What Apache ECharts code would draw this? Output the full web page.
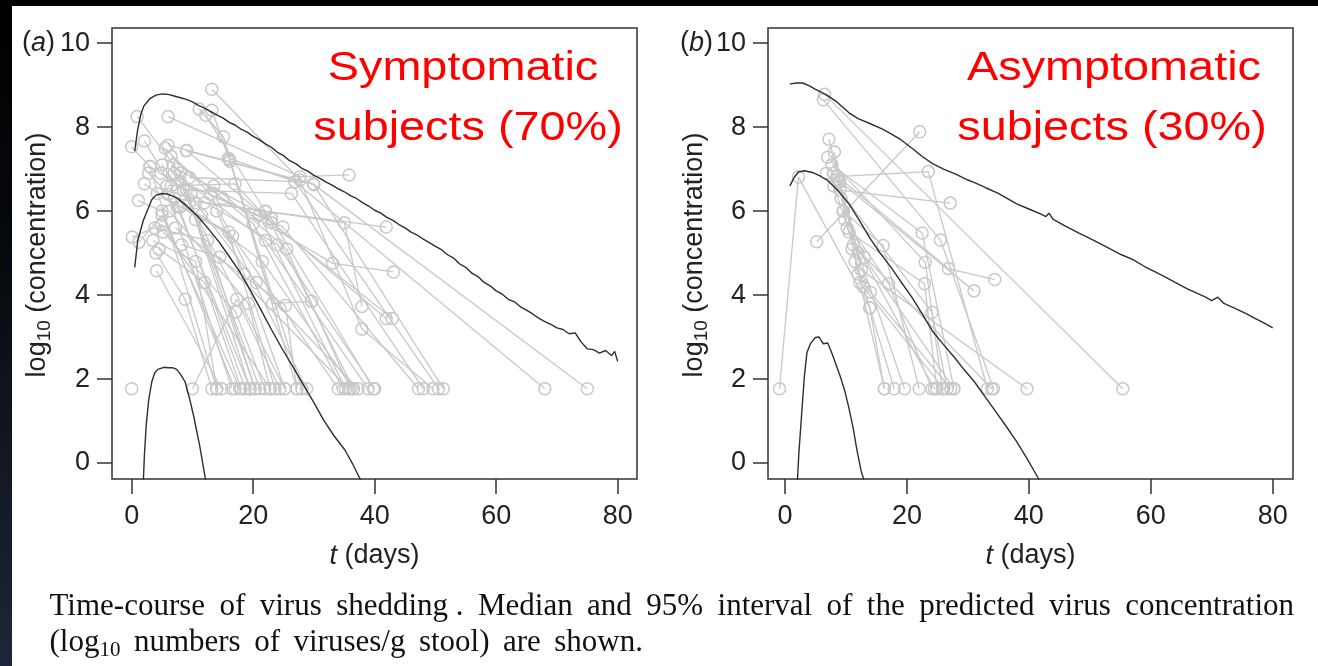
<!DOCTYPE html>
<html><head><meta charset="utf-8">
<script src="https://cdn.jsdelivr.net/npm/echarts@6/dist/echarts.min.js"></script>
<style>
html,body{margin:0;padding:0;background:#000;width:1318px;height:666px;overflow:hidden;}
#paper{position:absolute;left:12px;top:6px;width:1306px;height:660px;background:#fff;}
#strip{position:absolute;left:0;top:0;width:12px;height:666px;background:linear-gradient(to bottom,#000 0%,#05080d 35%,#1d2638 100%);}
#c{position:absolute;left:0;top:0;width:1318px;height:666px;}
</style>
</head><body><div id="strip"></div><div id="paper"></div><div id="c"></div>
<script>
// ---- tick labels ----
const xTicks = [0, 20, 40, 60, 80];
const yTicks = [0, 2, 4, 6, 8, 10];

// ---- panel (a): predicted curves [t, log10 conc] ----
const upperA = [[0.5,7.43],[1,7.95],[1.5,8.3],[2,8.5],[3,8.68],[4,8.76],[5,8.79],[6,8.78],[7,8.74],[8,8.70],[9,8.66],[10,8.6],[11,8.52],[12,8.45],[13,8.37],[14,8.29],[15,8.22],[16,8.12],[17,8.05],[18,7.95],[19,7.88],[20,7.78],[21,7.7],[22,7.6],[23,7.52],[24,7.4],[25,7.32],[26,7.2],[27,7.13],[28,7.02],[29,6.95],[30,6.85],[31,6.78],[32,6.69],[33,6.62],[34,6.53],[35,6.46],[36,6.37],[37,6.3],[38,6.2],[39,6.12],[40,6.02],[41,5.95],[42,5.85],[43,5.78],[44,5.68],[45,5.6],[46,5.5],[47,5.43],[48,5.33],[49,5.25],[50,5.16],[51,5.08],[52,4.96],[53,4.88],[54,4.74],[55,4.66],[56,4.52],[57,4.44],[58,4.3],[59,4.22],[60,4.1],[61,4.02],[62,3.9],[63,3.84],[64,3.72],[65,3.64],[66,3.55],[67,3.45],[68,3.37],[69,3.3],[70,3.22],[71,3.18],[72,3.08],[73,3.1],[74,2.88],[75,2.72],[76,2.7],[77,2.62],[78,2.68],[79,2.56],[79.5,2.66],[80,2.42]];
const medianA = [[0.5,4.66],[1,5.3],[1.9,5.77],[3.3,6.27],[4,6.38],[5,6.42],[6,6.4],[7.4,6.32],[9,6.13],[10.9,5.87],[12.5,5.6],[14.4,5.26],[16,4.93],[17.8,4.55],[19.5,4.12],[21.3,3.64],[23,3.18],[24.7,2.74],[26.5,2.3],[28.2,1.88],[30,1.44],[31.6,1.02],[33.3,0.65],[35.1,0.31],[36.3,0.0],[37.5,-0.35],[38,-0.5]];
const lowerA = [[1.9,-0.5],[2.1,0.2],[2.4,0.92],[2.8,1.5],[3.3,1.93],[3.8,2.15],[4.3,2.23],[5.3,2.28],[6,2.27],[6.7,2.27],[7.4,2.23],[8.1,2.1],[8.8,1.93],[9.5,1.55],[10.2,1.12],[11.2,0.41],[12.1,-0.35],[12.3,-0.5]];

// ---- panel (a): observed subjects ----
const subjectsA = [
 [[0.0,1.77]],
 [[0.9,8.25],[8.0,6.9],[20.3,1.77]],
 [[0.0,7.53],[3.0,7.06],[14.0,1.77]],
 [[2.1,7.67],[6.5,6.6],[18.7,1.77]],
 [[6.0,8.25],[27.7,6.82],[35.8,6.86]],
 [[11.1,8.43],[15.1,7.77],[27.2,1.77]],
 [[12.2,8.28],[22.0,5.99],[36.5,1.77]],
 [[13.2,8.9],[27.7,6.74],[37.9,3.19],[49.6,1.77]],
 [[13.2,8.4],[16.2,7.18],[28.0,1.77]],
 [[9.05,7.44],[41.9,3.44]],
 [[3.0,7.06],[9.0,6.5],[21.1,1.77]],
 [[1.1,6.25],[5.0,6.0],[17.0,1.77]],
 [[2.1,6.65],[7.5,6.1],[19.5,1.77]],
 [[0.1,5.38],[4.9,5.67],[22.8,1.77]],
 [[1.2,5.26],[5.0,5.9],[17.8,1.77]],
 [[4.1,4.58],[14.8,1.77]],
 [[10.0,1.77],[17.3,3.9],[24.4,1.77]],
 [[4.2,6.42],[16.0,5.5],[23.6,1.77]],
 [[5.0,7.1],[9.5,6.2],[25.2,1.77]],
 [[5.5,7.5],[13.0,6.4],[28.8,1.77]],
 [[6.5,7.3],[20.0,5.7],[34.8,1.77]],
 [[7.0,6.9],[22.0,5.3],[38.9,1.77]],
 [[7.5,7.0],[23.0,5.82],[39.8,1.77]],
 [[8.0,6.7],[24.9,5.62],[47.2,1.77]],
 [[8.5,6.5],[26.3,6.42],[48.0,1.77]],
 [[9.5,6.8],[26.9,6.7],[50.5,1.77]],
 [[6.0,7.57],[29.9,6.65],[51.3,1.77]],
 [[7.0,6.3],[22.0,6.0],[41.9,5.62]],
 [[12.0,6.2],[35.0,5.72],[37.9,3.73]],
 [[15.0,6.3],[33.05,4.76],[43.1,4.55]],
 [[16.1,7.23],[23.2,3.8],[29.6,3.85]],
 [[15.9,7.26],[26.9,6.70],[68.0,1.77]],
 [[9.0,7.44],[30.0,6.63],[75.0,1.77]],
 [[4.0,5.0],[8.8,3.9],[13.2,1.77]],
 [[3.5,5.3],[10.5,4.8],[14.0,1.77]],
 [[4.5,5.1],[12.0,4.3],[18.0,1.77]],
 [[5.2,5.5],[17.1,3.6],[21.9,1.77]],
 [[6.2,6.0],[19.2,3.8],[22.8,1.77]],
 [[7.2,5.6],[25.3,3.75],[27.2,1.77]],
 [[8.2,5.2],[14.5,4.9],[35.7,1.77]],
 [[10.5,6.2],[20.5,4.3],[37.3,1.77]],
 [[11.5,5.9],[21.5,4.8],[36.5,1.77]],
 [[5.8,6.6],[17.0,6.65],[23.0,5.72],[42.9,3.44]],
 [[3.8,5.6],[12.5,5.3],[20.3,1.77]],
 [[14.0,6.0],[18.5,4.5],[25.2,1.77]],
 [[6.8,7.1],[10.5,5.8],[19.5,1.77]],
 [[2.8,6.9],[6.0,6.4],[16.5,1.77]],
 [[8.0,6.1],[16.6,5.4],[34.0,1.77]],
 [[9.8,6.4],[24.0,5.2],[40.0,1.77]],
 [[13.5,6.6],[25.5,5.1],[36.0,1.77]],
 [[4.8,6.9],[21.0,5.9],[35.2,1.77]]
];

// ---- panel (b): predicted curves ----
const upperB = [[0.8,9.03],[2,9.05],[2.9,9.05],[4,8.98],[5,8.9],[5.7,8.85],[7,8.75],[8.5,8.6],[10.5,8.34],[12,8.2],[14,8.08],[16,7.95],[17.4,7.84],[19,7.7],[21,7.48],[22.5,7.3],[24.2,7.13],[26,7.0],[28,6.88],[30,6.74],[31.1,6.68],[33,6.55],[35,6.42],[38,6.17],[40,6.05],[42,5.93],[42.8,5.87],[43.3,5.95],[44,5.8],[46,5.64],[48.3,5.47],[50,5.35],[52,5.2],[55.2,4.96],[57,4.85],[59,4.68],[62.1,4.45],[64,4.3],[66,4.15],[69,3.95],[70,3.87],[71,3.95],[72,3.8],[74,3.67],[75.9,3.54],[77,3.45],[78,3.38],[79,3.3],[80,3.22]];
const medianB = [[0.8,6.6],[1.5,6.8],[2.2,6.93],[3.2,6.96],[4.5,6.92],[5.8,6.83],[7,6.73],[8.8,6.47],[10.5,6.17],[12.2,5.78],[13.9,5.36],[15.6,5.0],[17.4,4.66],[19.1,4.3],[20.8,3.95],[22.5,3.55],[24.2,3.14],[26,2.82],[27.7,2.53],[29.4,2.22],[31.1,1.93],[32.8,1.58],[34.6,1.22],[36.3,0.87],[38.0,0.51],[39.8,0.08],[41.5,-0.35],[42,-0.5]];
const lowerB = [[2.0,-0.5],[2.3,0.3],[2.6,0.9],[2.9,1.52],[3.2,2.1],[3.6,2.63],[4.2,2.85],[4.97,2.99],[5.6,3.0],[6.0,2.9],[6.3,2.84],[7.0,2.86],[7.6,2.65],[8.4,2.33],[9.1,2.05],[9.8,1.72],[10.5,1.3],[11.2,0.82],[11.8,0.31],[12.5,-0.2],[12.9,-0.38],[13,-0.5]];

// ---- panel (b): observed subjects ----
const subjectsB = [
 [[-0.9,1.77],[2.2,6.81],[13.9,3.7],[16.3,1.77]],
 [[6.5,8.78],[55.4,1.77]],
 [[6.3,8.65],[25.5,5.31],[34.2,1.77]],
 [[5.2,5.27],[22.1,7.89]],
 [[7.2,7.71],[9.0,6.7],[12.0,5.0],[19.6,1.77]],
 [[8.5,6.82],[23.5,6.94],[33.2,1.77]],
 [[9.0,6.5],[27.1,6.19]],
 [[8.6,6.75],[31.0,4.10]],
 [[8.0,6.9],[26.8,4.63],[34.4,4.37]],
 [[7.7,7.1],[22.5,5.48],[27.7,1.77]],
 [[7.0,7.28],[23.0,4.78],[25.8,1.77]],
 [[6.8,6.9],[24.1,3.59],[26.6,1.77]],
 [[9.5,6.0],[16.1,5.18],[22.0,1.77]],
 [[9.8,5.8],[17.0,4.27],[24.1,1.77]],
 [[10.5,5.5],[22.9,4.27],[24.9,1.77]],
 [[11.0,5.1],[13.9,3.7],[17.9,1.77]],
 [[11.5,4.8],[12.3,4.3],[16.3,1.77]],
 [[12.0,4.5],[14.0,4.07],[27.2,1.77]],
 [[8.0,6.6],[11.2,5.2],[33.9,1.77]],
 [[8.8,6.7],[12.5,4.6],[39.7,1.77]],
 [[9.2,6.3],[13.0,4.9],[27.7,1.77]],
 [[9.6,6.0],[12.8,4.2],[26.0,1.77]],
 [[8.1,7.41],[10.2,5.6],[24.5,1.77]]
];

// ---- texts ----
const titleA = ['Symptomatic', 'subjects (70%)'];
const titleB = ['Asymptomatic', 'subjects (30%)'];
const panelLabels = ['a', 'b'];
const captionLine1 = ['Time-course','of','virus','shedding .','Median','and','95%','interval','of','the','predicted','virus','concentration'];
const captionLine2 = ['numbers','of','viruses/g','stool)','are','shown.'];
const captionLine2Head = ['(log', '10'];

// ---- layout ----
const SANS = '"Liberation Sans", Arial, sans-serif';
const SERIF = '"Liberation Serif", "Times New Roman", serif';
const GRID_TOP = 28, GRID_H = 451, GRID_W = 525;
const gridsPos = [{left:112}, {left:768}];
const xRange = [[-3.24, 83.18], [-2.79, 83.33]];
const yRange = [-0.38, 10.36];
const INK = '#222';
const GRAY = '#c8c8c8';
const CURVE = '#2e2e2e';

const chart = echarts.init(document.getElementById('c'), null, {renderer:'canvas'});

const grid = gridsPos.map(g => ({left:g.left, top:GRID_TOP, width:GRID_W, height:GRID_H, show:true,
  borderColor:'#333', borderWidth:1.5, backgroundColor:'transparent', containLabel:false}));

const xAxis = [0,1].map(i => ({type:'value', gridIndex:i, min:xRange[i][0], max:xRange[i][1], position:'bottom',
  splitLine:{show:false}, axisLine:{show:false, onZero:false},
  axisTick:{show:true, inside:false, length:15, customValues:xTicks, lineStyle:{color:'#333', width:1.5}},
  axisLabel:{show:true, customValues:xTicks, margin:24, fontFamily:SANS, fontSize:27, color:INK}}));

const yAxis = [0,1].map(i => ({type:'value', gridIndex:i, min:yRange[0], max:yRange[1], position:'left',
  splitLine:{show:false}, axisLine:{show:false, onZero:false},
  axisTick:{show:true, inside:false, length:15, customValues:yTicks, lineStyle:{color:'#333', width:1.5}},
  axisLabel:{show:true, customValues:yTicks, margin:22, fontFamily:SANS, fontSize:27, color:INK}}));

const series = [];
function addSubjects(list, idx) {
  list.forEach(pts => series.push({type:'line', xAxisIndex:idx, yAxisIndex:idx, data:pts,
    symbol:'circle', symbolSize:12, showSymbol:true, showAllSymbol:true, clip:true, silent:true, z:2,
    lineStyle:{color:GRAY, width:1.3}, itemStyle:{color:'rgba(0,0,0,0)', borderColor:GRAY, borderWidth:1.5}}));
}
function addCurve(pts, idx) {
  series.push({type:'line', xAxisIndex:idx, yAxisIndex:idx, data:pts, symbol:'none', showSymbol:false,
    clip:true, silent:true, z:3, lineStyle:{color:CURVE, width:1.4}});
}
addSubjects(subjectsA, 0); addSubjects(subjectsB, 1);
[upperA, medianA, lowerA].forEach(c => addCurve(c, 0));
[upperB, medianB, lowerB].forEach(c => addCurve(c, 1));

// ---- graphic texts ----
const graphic = [];
function redTitle(lines, cx) {
  const ys = [69, 129];
  lines.forEach((t, k) => graphic.push({type:'text', x:cx[k], y:ys[k], scaleX:1.17, silent:true, z:10,
    style:{text:t, font:'40px ' + SANS, fill:'#ff0000', align:'center', verticalAlign:'middle'}}));
}
redTitle(titleA, [463, 468]);
redTitle(titleB, [1114, 1112]);

// panel labels "(a)", "(b)"
[[55, panelLabels[0]], [713, panelLabels[1]]].forEach(([x, l]) => graphic.push({type:'text', x:x, y:43, silent:true,
  style:{text:'{n|(}{i|' + l + '}{n|)}', align:'right', verticalAlign:'middle',
    rich:{n:{fontFamily:SANS, fontSize:27, fill:INK}, i:{fontFamily:SANS, fontSize:27, fontStyle:'italic', fill:INK}}}}));

// x axis titles
[374.5, 1030.5].forEach(x => graphic.push({type:'text', x:x, y:556, silent:true,
  style:{text:'{i|t}{n| (days)}', align:'center', verticalAlign:'middle',
    rich:{n:{fontFamily:SANS, fontSize:27, fill:INK}, i:{fontFamily:SANS, fontSize:27, fontStyle:'italic', fill:INK}}}}));

// y axis titles
[38, 695].forEach(x => graphic.push({type:'text', x:x, y:255, rotation:Math.PI/2, silent:true,
  style:{text:'{n|log}{s|10}{n| (concentration)}', align:'center', verticalAlign:'middle',
    rich:{n:{fontFamily:SANS, fontSize:27, lineHeight:32, fill:INK},
          s:{fontFamily:SANS, fontSize:19, lineHeight:19, padding:[13,0,0,0], fill:INK}}}}));

// caption (justified lines)
const mctx = document.createElement('canvas').getContext('2d');
const CAP_FS = 31, SUB_FS = 21;
function w(txt, fs) { mctx.font = fs + 'px ' + SERIF; return mctx.measureText(txt).width; }
function justify(tokens, widths, x0, x1, y) {
  const sum = widths.reduce((a, b) => a + b, 0);
  const gap = (x1 - x0 - sum) / (tokens.length - 1);
  let cx = x0;
  tokens.forEach((t, k) => {
    graphic.push(Object.assign({type:'text', x:cx, y:y, silent:true}, t));
    cx += widths[k] + gap;
  });
}
const capX0 = 49.5;
justify(captionLine1.map(s => ({style:{text:s, font:CAP_FS + 'px ' + SERIF, fill:'#111', align:'left', verticalAlign:'middle'}})),
  captionLine1.map(s => w(s, CAP_FS)), capX0, 1294, 607);
const headTok = {style:{text:'{n|' + captionLine2Head[0] + '}{s|' + captionLine2Head[1] + '}', align:'left', verticalAlign:'middle',
  rich:{n:{fontFamily:SERIF, fontSize:CAP_FS, lineHeight:36, fill:'#111'},
        s:{fontFamily:SERIF, fontSize:SUB_FS, lineHeight:21, padding:[14,0,0,0], fill:'#111'}}}};
const tokens2 = [headTok].concat(captionLine2.map(s => ({style:{text:s, font:CAP_FS + 'px ' + SERIF, fill:'#111', align:'left', verticalAlign:'middle'}})));
const widths2 = [w(captionLine2Head[0], CAP_FS) + w(captionLine2Head[1], SUB_FS)].concat(captionLine2.map(s => w(s, CAP_FS)));
justify(tokens2, widths2, capX0, 643, 643);

chart.setOption({animation:false, backgroundColor:'transparent', grid, xAxis, yAxis, series, graphic});
</script>
</body></html>
